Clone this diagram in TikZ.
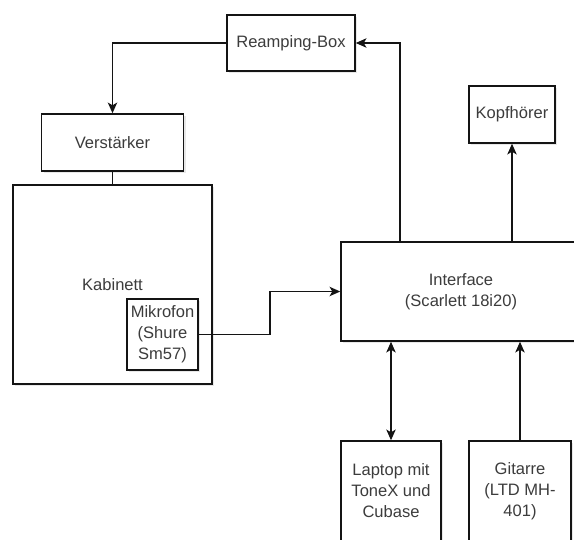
\documentclass[tikz,border=0pt]{standalone}
\usepackage{fontspec}
\setmainfont{Liberation Sans}
\usetikzlibrary{arrows.meta,shadows}

\tikzset{every picture/.style={line width=0.75pt}}
\tikzset{
  blk/.style={draw={rgb,255:red,20;green,20;blue,20}, fill=white, line width=1.1pt,
    text={rgb,255:red,60;green,60;blue,60}, align=center, inner sep=0.75pt,
    font=\fontsize{12.4}{15.8}\selectfont,
    drop shadow={shadow xshift=1.5pt, shadow yshift=-1.5pt, opacity=0.18}},
  conn/.style={draw={rgb,255:red,20;green,20;blue,20}, line width=1.2pt,
    -{Stealth[length=8pt,width=7pt,inset=2pt]}},
  dconn/.style={conn, {Stealth[length=8pt,width=7pt,inset=2pt]}-{Stealth[length=8pt,width=7pt,inset=2pt]}},
  wire/.style={draw={rgb,255:red,20;green,20;blue,20}, line width=1.2pt}
}

\begin{document}
\begin{tikzpicture}[x=0.75pt,y=0.75pt,yscale=-1,xscale=1]
\useasboundingbox (0,0) rectangle (574,539);
\clip (0,0) rectangle (574,539);

%Shape: Rectangle [id:reamp]
\node [blk, minimum width=96pt, minimum height=42pt] (reamp) at (291,43) {Reamping-Box};
%Shape: Rectangle [id:amp]
\node [blk, minimum width=106.5pt, minimum height=42.75pt] (amp) at (112.5,142.5) {Verstärker};
%Shape: Rectangle [id:kab]
\node [blk, minimum width=149.25pt, minimum height=149.25pt] (kab) at (112.5,284.5) {Kabinett};
%Shape: Rectangle [id:mic]
\node [blk, minimum width=53.25pt, minimum height=53.25pt] (mic) at (162.5,334.5) {Mikrofon\\(Shure\\Sm57)};
%Shape: Rectangle [id:iface]
\node [blk, minimum width=180pt, minimum height=74.25pt] (iface) at (461,291.5) {Interface\\(Scarlett 18i20)};
%Shape: Rectangle [id:kopf]
\node [blk, minimum width=64.5pt, minimum height=42.75pt] (kopf) at (512,114.5) {Kopfhörer};
%Shape: Rectangle [id:laptop]
\node [blk, minimum width=75pt, minimum height=75pt] (laptop) at (391,491) {Laptop mit\\ToneX und\\Cubase};
%Shape: Rectangle [id:gitarre]
\node [blk, minimum width=76.5pt, minimum height=75pt] (gitarre) at (520,491) {Gitarre\\(LTD MH-\\401)};

%Connector: Interface -> Reamping-Box
\draw [conn] (iface.north west) ++(60,0) |- (reamp.east);
%Connector: Reamping-Box -> Verstaerker
\draw [conn] (reamp.west) -| (amp.north);
%Straight Lines: Verstaerker - Kabinett
\draw [wire] (amp.south) -- (kab.north);
%Connector: Mikrofon -> Interface
\draw [conn] (mic.east) -- ++(71,0) |- (iface.west);
%Connector: Interface -> Kopfhoerer
\draw [conn] (iface.north -| kopf.south) -- (kopf.south);
%Connector: Interface <-> Laptop
\draw [dconn] (laptop.north) -- (laptop.north |- iface.south);
%Connector: Gitarre -> Interface
\draw [conn] (gitarre.north) -- (gitarre.north |- iface.south);

\end{tikzpicture}
\end{document}
